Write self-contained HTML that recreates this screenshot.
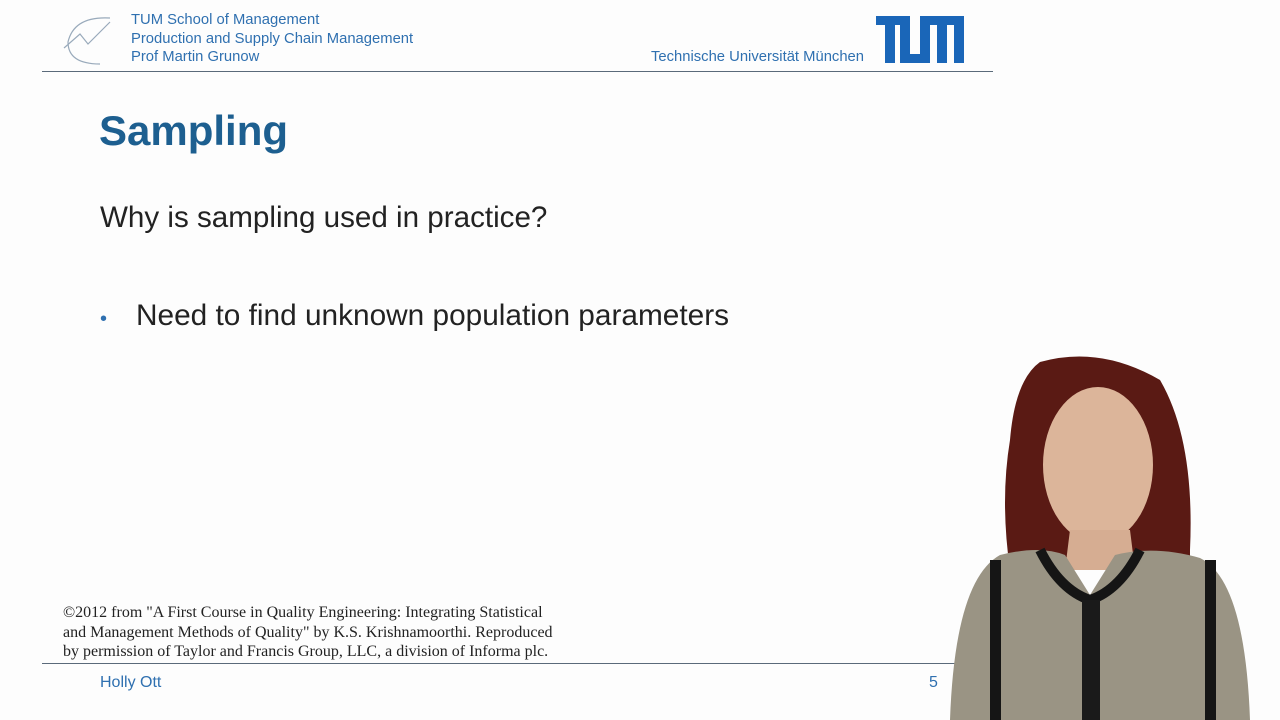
<!DOCTYPE html>
<html><head><meta charset="utf-8"><style>
body{margin:0;width:1280px;height:720px;background:#fdfdfd;overflow:hidden;position:relative;font-family:"Liberation Sans",sans-serif}
.a{position:absolute;white-space:nowrap}
.hd{color:#2f70b0;font-size:14.8px}
</style></head><body>
<svg class="a" style="left:60px;top:12px" width="60" height="56">
<path d="M50 6 Q14 4 8 30 Q8 52 40 52" fill="none" stroke="#9ab" stroke-width="1.2"/>
<path d="M4 36 L20 22 L28 32 L50 10" fill="none" stroke="#9ab" stroke-width="1.2"/>
</svg>
<div class="a hd" style="left:131px;top:12px">TUM School of Management</div>
<div class="a hd" style="left:131px;top:31px">Production and Supply Chain Management</div>
<div class="a hd" style="left:131px;top:49px">Prof Martin Grunow</div>
<div class="a hd" style="left:651px;top:49px">Technische Universität München</div>
<svg class="a" style="left:876px;top:16px" width="88" height="47">
<g fill="#1a66b8"><rect x="0" y="0" width="28" height="9"/><rect x="9" y="0" width="10" height="47"/>
<rect x="24" y="0" width="10" height="47"/><rect x="24" y="38" width="30" height="9"/><rect x="44" y="0" width="10" height="47"/>
<rect x="44" y="0" width="44" height="9"/><rect x="61" y="0" width="10" height="47"/><rect x="78" y="0" width="10" height="47"/></g></svg>
<div class="a" style="left:42px;top:71px;width:951px;height:1px;background:#5a6a7a"></div>
<div class="a" style="left:99px;top:107px;font-size:42px;font-weight:bold;color:#1d5f90">Sampling</div>
<div class="a" style="left:100px;top:201px;font-size:29.6px;color:#222">Why is sampling used in practice?</div>
<div class="a" style="left:100px;top:299px;font-size:29.8px;color:#222"><span style="color:#2f70b0;font-size:20px">•</span><span style="position:absolute;left:36px">Need to find unknown population parameters</span></div>
<div class="a" style="left:63px;top:603px;font-family:'Liberation Serif',serif;font-size:16px;line-height:19.5px;color:#222">©2012 from "A First Course in Quality Engineering: Integrating Statistical<br>and Management Methods of Quality" by K.S. Krishnamoorthi. Reproduced<br>by permission of Taylor and Francis Group, LLC, a division of Informa plc.</div>
<div class="a" style="left:42px;top:663px;width:951px;height:1px;background:#5a6a7a"></div>
<div class="a hd" style="left:100px;top:674px;font-size:16px">Holly Ott</div>
<div class="a hd" style="left:929px;top:674px;font-size:16px">5</div>
<svg class="a" style="left:940px;top:350px" width="340" height="370">
<path d="M100 12 Q160 -5 220 30 Q255 90 250 200 L250 220 L70 220 Q60 150 70 90 Q75 30 100 12Z" fill="#5a1a14"/>
<ellipse cx="158" cy="115" rx="55" ry="78" fill="#dcb59a"/>
<path d="M130 180 L190 180 L195 220 L125 220Z" fill="#d6ad92"/>
<path d="M10 370 Q15 230 60 205 Q100 195 125 205 L150 245 L175 205 Q215 195 260 208 Q305 230 310 370Z" fill="#9a9484"/>
<path d="M100 200 Q120 240 150 250 Q180 240 200 200" fill="none" stroke="#151515" stroke-width="10"/>
<rect x="50" y="210" width="11" height="160" fill="#151515"/>
<rect x="265" y="210" width="11" height="160" fill="#151515"/>
<rect x="142" y="250" width="18" height="120" fill="#1a1a1a"/>
</svg>
</body></html>
